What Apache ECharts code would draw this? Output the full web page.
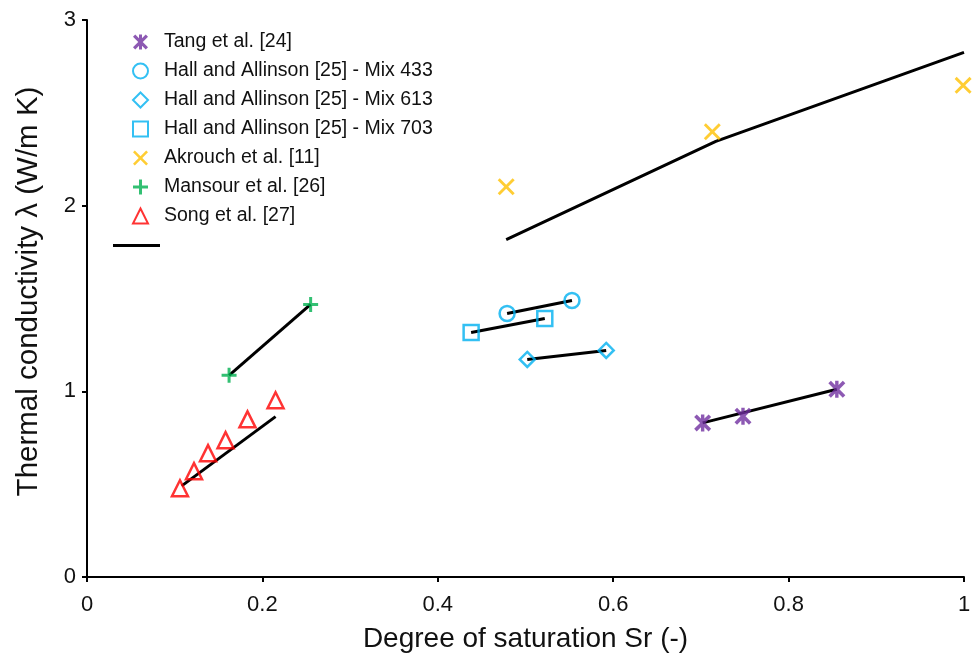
<!DOCTYPE html>
<html><head><meta charset="utf-8">
<script src="https://cdn.jsdelivr.net/npm/echarts@6/dist/echarts.min.js"></script>
<style>html,body{margin:0;padding:0;background:#fff}#c{width:975px;height:660px}</style>
</head><body><div id="c"></div>
<script>
// Measured data
const tangX = [0.702, 0.748, 0.855];
const tangY = [0.83, 0.866, 1.011];
const hall433X = [0.479, 0.553];
const hall433Y = [1.419, 1.489];
const hall613X = [0.502, 0.592];
const hall613Y = [1.172, 1.220];
const hall703X = [0.438, 0.522];
const hall703Y = [1.317, 1.392];
const akrouchX = [0.478, 0.713, 0.999];
const akrouchY = [2.102, 2.398, 2.648];
const mansourX = [0.162, 0.255];
const mansourY = [1.086, 1.468];
const songX = [0.106, 0.122, 0.138, 0.158, 0.183, 0.215];
const songY = [0.478, 0.570, 0.667, 0.737, 0.849, 0.952];
// Model lines
const modelTangX = [0.702, 0.855];
const modelTangY = [0.83, 1.011];
const model433X = [0.479, 0.553];
const model433Y = [1.419, 1.489];
const model613X = [0.502, 0.592];
const model613Y = [1.172, 1.220];
const model703X = [0.438, 0.522];
const model703Y = [1.317, 1.392];
const modelAkrouchX = [0.478, 0.717, 1.0];
const modelAkrouchY = [1.817, 2.346, 2.826];
const modelMansourX = [0.162, 0.255];
const modelMansourY = [1.086, 1.468];
const modelSongX = [0.108, 0.215];
const modelSongY = [0.491, 0.864];

const names = ['Tang et al. [24]', 'Hall and Allinson [25] - Mix 433', 'Hall and Allinson [25] - Mix 613',
  'Hall and Allinson [25] - Mix 703', 'Akrouch et al. [11]', 'Mansour et al. [26]', 'Song et al. [27]'];
const xTickLabels = ['0', '0.2', '0.4', '0.6', '0.8', '1'];
const yTickLabels = ['0', '1', '2', '3'];

const FONT = 'Liberation Sans, Arial, sans-serif';
const zip = (xs, ys) => xs.map((x, i) => [x, ys[i]]);
const asterisk = 'path://M40,0 L60,0 L60,100 L40,100 Z M0,15 L15,0 L50,35 L85,0 L100,15 L65,50 L100,85 L85,100 L50,65 L15,100 L0,85 L35,50 Z';
const cross = 'path://M0,12 L12,0 L50,38 L88,0 L100,12 L62,50 L100,88 L88,100 L50,62 L12,100 L0,88 L38,50 Z';
const plus = 'path://M40,0 L60,0 L60,40 L100,40 L100,60 L60,60 L60,100 L40,100 L40,60 L0,60 L0,40 L40,40 Z';

function lineS(xs, ys) {
  return { name: 'Model', type: 'line', data: zip(xs, ys), symbol: 'none', showSymbol: false, z: 2,
    lineStyle: { color: '#000', width: 3 }, itemStyle: { color: '#000' }, animation: false };
}
function scatS(name, xs, ys, symbol, size, color, hollow) {
  const itemStyle = hollow ? { color: 'rgba(255,255,255,0)', borderColor: color, borderWidth: 2.5 } : { color: color };
  return { name: name, type: 'scatter', data: zip(xs, ys), symbol: symbol, symbolSize: size, z: 3,
    symbolKeepAspect: true, itemStyle: itemStyle, animation: false };
}

const chart = echarts.init(document.getElementById('c'));
chart.setOption({
  animation: false,
  grid: { left: 87, right: 11, top: 20, bottom: 83 },
  xAxis: {
    type: 'value', min: 0, max: 1, interval: 0.2,
    name: 'Degree of saturation Sr (-)', nameLocation: 'middle', nameGap: 48,
    nameTextStyle: { fontFamily: FONT, fontSize: 28, color: '#111' },
    axisLine: { lineStyle: { color: '#000', width: 2 } },
    axisTick: { show: true, length: 5, lineStyle: { color: '#000', width: 2 } },
    axisLabel: { fontFamily: FONT, fontSize: 22, color: '#111', margin: 17,
      formatter: (v) => xTickLabels[Math.round(v * 5)] },
    splitLine: { show: false }
  },
  yAxis: {
    type: 'value', min: 0, max: 3, interval: 1,
    name: 'Thermal conductivity λ (W/m K)', nameLocation: 'middle', nameGap: 43,
    nameTextStyle: { fontFamily: FONT, fontSize: 29.5, color: '#111', padding: [0, 0, 0, 14] },
    axisLine: { show: true, lineStyle: { color: '#000', width: 2 } },
    axisTick: { show: true, length: 5, lineStyle: { color: '#000', width: 2 } },
    axisLabel: { fontFamily: FONT, fontSize: 22, color: '#111', margin: 11,
      formatter: (v) => yTickLabels[Math.round(v)] },
    splitLine: { show: false }
  },
  legend: [
    { data: names, orient: 'vertical', left: 132, top: 32, padding: 0, itemWidth: 15, itemHeight: 15, itemGap: 9,
      symbolKeepAspect: true,
      textStyle: { fontFamily: FONT, fontSize: 19.5, color: '#111', padding: [0, 0, 0, 11] } },
    { data: [{ name: 'Model', icon: 'rect' }], orient: 'vertical', left: 113, top: 244, padding: 0,
      itemWidth: 47, itemHeight: 3, formatter: () => '', textStyle: { fontSize: 10 },
      itemStyle: { color: '#000' } }
  ],
  series: [
    lineS(modelTangX, modelTangY),
    lineS(model433X, model433Y),
    lineS(model613X, model613Y),
    lineS(model703X, model703Y),
    lineS(modelAkrouchX, modelAkrouchY),
    lineS(modelMansourX, modelMansourY),
    lineS(modelSongX, modelSongY),
    scatS(names[0], tangX, tangY, asterisk, 17, '#7030A0', false),
    scatS(names[1], hall433X, hall433Y, 'circle', 15, '#00B0F0', true),
    scatS(names[2], hall613X, hall613Y, 'diamond', 15, '#00B0F0', true),
    scatS(names[3], hall703X, hall703Y, 'rect', 15, '#00B0F0', true),
    scatS(names[4], akrouchX, akrouchY, cross, 17, '#FFC000', false),
    scatS(names[5], mansourX, mansourY, plus, 15, '#00B050', false),
    scatS(names[6], songX, songY, 'triangle', 16, '#FF0000', true)
  ]
});
</script></body></html>
